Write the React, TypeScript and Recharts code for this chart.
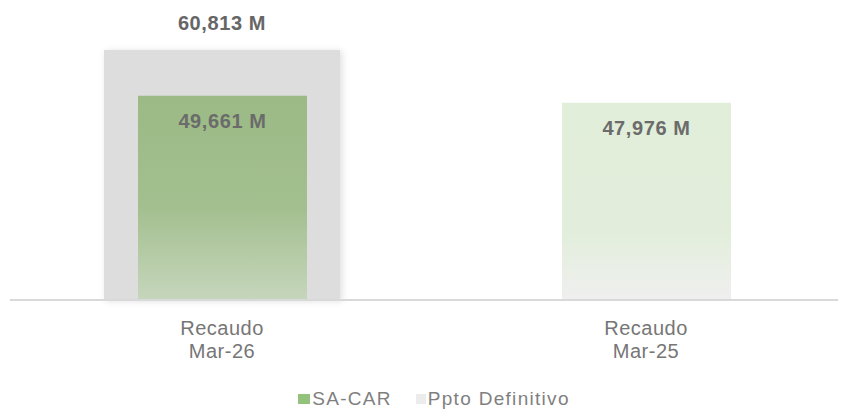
import { BarChart, Bar, XAxis, YAxis, Legend, Cell, LabelList } from 'recharts';

const categories = ['Recaudo Mar-26', 'Recaudo Mar-25'];
const saCar = [49661, 47976];
const pptoDefinitivo: (number | null)[] = [60813, null];

const seriesNames = { saCar: 'SA-CAR', ppto: 'Ppto Definitivo' };

const FONT = '"Liberation Sans", Arial, sans-serif';

const data = categories.map((name, i) => ({
  name,
  saCar: saCar[i],
  ppto: pptoDefinitivo[i],
}));

const fmt = (v: any) => `${Number(v).toLocaleString('en-US')} M`;

const CategoryTick = ({ x, y, payload }: any) => {
  const [first, second] = String(payload.value).split(' ');
  return (
    <text
      x={x}
      y={y}
      textAnchor='middle'
      fill='#767676'
      fontSize={20}
      letterSpacing={0.5}
      fontFamily={FONT}
    >
      <tspan x={x} dy={35}>{first}</tspan>
      <tspan x={x} dy={23}>{second}</tspan>
    </text>
  );
};

// label above the budget bar
const TopLabel = (props: any) => {
  const { x, y, width, value } = props;
  if (value == null) return null;
  return (
    <text
      x={Number(x) + Number(width) / 2}
      y={Number(y) - 27}
      textAnchor='middle'
      dominantBaseline='central'
      fill='#666666'
      fontSize={20}
      fontWeight='bold'
      letterSpacing={0.6}
      fontFamily={FONT}
    >
      {fmt(value)}
    </text>
  );
};

// label inside the top of the green bars
const InsideLabel = (props: any) => {
  const { x, y, width, value } = props;
  if (value == null) return null;
  return (
    <text
      x={Number(x) + Number(width) / 2}
      y={Number(y) + 25}
      textAnchor='middle'
      dominantBaseline='central'
      fill='#6b6b6b'
      fontSize={20}
      fontWeight='bold'
      letterSpacing={0.6}
      fontFamily={FONT}
    >
      {fmt(value)}
    </text>
  );
};

const renderLegend = () => (
  <div
    style={{
      display: 'flex',
      justifyContent: 'center',
      alignItems: 'center',
      height: 28,
      fontFamily: FONT,
      fontSize: 19,
      letterSpacing: 1.3,
      color: '#7f7f7f',
    }}
  >
    <span style={{ width: 12, height: 10, background: '#93c27d', marginRight: 2 }} />
    <span>{seriesNames.saCar}</span>
    <span style={{ width: 10, height: 10, background: '#ececec', marginLeft: 24, marginRight: 2 }} />
    <span>{seriesNames.ppto}</span>
  </div>
);

export default function App() {
  return (
    <div style={{ width: 846, height: 405, marginLeft: -8 }}>
      <BarChart
        width={846}
        height={405}
        data={data}
        margin={{ top: 42, right: -12, left: 10, bottom: 0 }}
        style={{ overflow: 'visible' }}
      >
        <defs>
          <linearGradient id='greenMain' x1='0' y1='0' x2='0' y2='1'>
            <stop offset='0%' stopColor='#9bba85' />
            <stop offset='55%' stopColor='#a3bf8f' />
            <stop offset='100%' stopColor='#c6d6bc' />
          </linearGradient>
          <linearGradient id='greenLight' x1='0' y1='0' x2='0' y2='1'>
            <stop offset='0%' stopColor='#e1eed9' />
            <stop offset='65%' stopColor='#e2eedb' />
            <stop offset='100%' stopColor='#efefef' />
          </linearGradient>
          <filter id='barShadow' x='-10%' y='-10%' width='125%' height='125%'>
            <feDropShadow dx='2' dy='1' stdDeviation='3.5' floodColor='#000' floodOpacity='0.13' />
          </filter>
        </defs>
        <XAxis
          xAxisId='front'
          dataKey='name'
          height={85}
          tickLine={false}
          tickSize={0}
          tickMargin={0}
          axisLine={{ stroke: '#d9d9d9', strokeWidth: 2 }}
          tick={<CategoryTick />}
          interval={0}
        />
        <XAxis xAxisId='back' dataKey='name' hide height={0} />
        <YAxis hide domain={[0, 'dataMax']} />
        <Legend verticalAlign='bottom' content={renderLegend} />
        <Bar
          xAxisId='back'
          dataKey='ppto'
          name={seriesNames.ppto}
          fill='#dddddd'
          barSize={236}
          filter='url(#barShadow)'
          isAnimationActive={false}
        >
          <LabelList dataKey='ppto' content={<TopLabel />} />
        </Bar>
        <Bar
          xAxisId='front'
          dataKey='saCar'
          name={seriesNames.saCar}
          barSize={169}
          isAnimationActive={false}
        >
          {data.map((_, i) => (
            <Cell key={i} fill={i === 0 ? 'url(#greenMain)' : 'url(#greenLight)'} />
          ))}
          <LabelList dataKey='saCar' content={<InsideLabel />} />
        </Bar>
      </BarChart>
    </div>
  );
}
